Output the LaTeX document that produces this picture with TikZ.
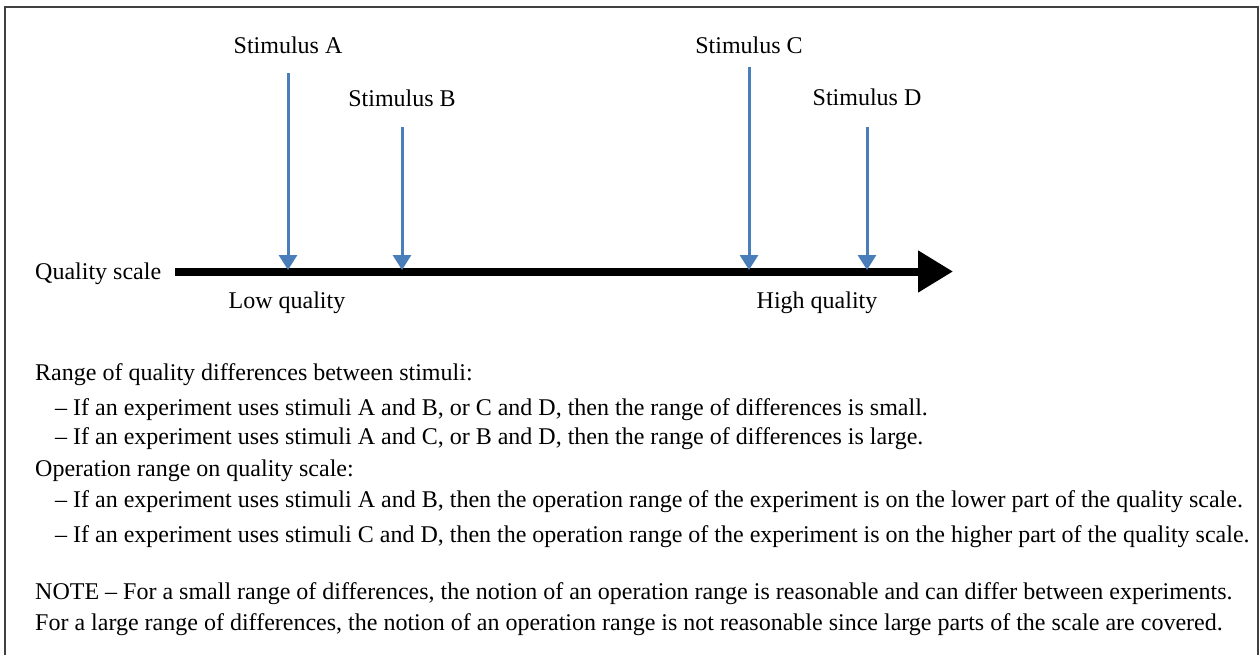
\documentclass[tikz,border=0pt]{standalone}
\usepackage{fontspec}
\setmainfont{Liberation Serif}
\usetikzlibrary{arrows.meta}
\definecolor{stimblue}{RGB}{74,126,187}
\tikzset{
  txt/.style={font=\fontsize{24}{28}\selectfont, inner sep=0pt},
  line/.style={txt, anchor=base west},
  stimarrow/.style={stimblue, line width=3pt, -{Triangle[length=15pt,width=18pt]}},
  axis/.style={black, line width=8pt, -{Triangle[length=35pt,width=40pt]}},
  frame/.style={draw=black!75, line width=1.2pt}
}
\begin{document}
\begin{tikzpicture}[x=1pt,y=-1pt]
\useasboundingbox (0,0) rectangle (1260,655);
% frame (open at the bottom)
\draw[frame] (5,660) -- (5,7) -- (1258,7) -- (1258,660);

% quality axis
\coordinate (axs) at (175,271.5);
\coordinate (axe) at (953,271.5);
\draw[axis] (axs) -- (axe);
\node[txt, anchor=base west] (qs) at (35,279) {Quality scale};
\node[txt, anchor=base] (lowq) at (287,308) {Low quality};
\node[txt, anchor=base] (highq) at (817,308) {High quality};

% stimuli
\node[txt, anchor=base] (sa) at (288,54) {Stimulus A};
\node[txt, anchor=base] (sb) at (402,107) {Stimulus B};
\node[txt, anchor=base] (sc) at (749,54) {Stimulus C};
\node[txt, anchor=base] (sd) at (867,106) {Stimulus D};
\coordinate (ta) at (288,73);  \coordinate (pa) at (288,270);
\coordinate (tb) at (402,127); \coordinate (pb) at (402,270);
\coordinate (tc) at (749,67);  \coordinate (pc) at (749,270);
\coordinate (td) at (867,127); \coordinate (pd) at (867,270);
\draw[stimarrow] (ta) -- (pa);
\draw[stimarrow] (tb) -- (pb);
\draw[stimarrow] (tc) -- (pc);
\draw[stimarrow] (td) -- (pd);

% explanatory text
\node[line] (l1) at (35,380) {Range of quality differences between stimuli:};
\node[line] (l2) at (55,415) {– If an experiment uses stimuli A and B, or C and D, then the range of differences is small.};
\node[line] (l3) at (55,444) {– If an experiment uses stimuli A and C, or B and D, then the range of differences is large.};
\node[line] (l4) at (35,476) {Operation range on quality scale:};
\node[line] (l5) at (55,507) {– If an experiment uses stimuli A and B, then the operation range of the experiment is on the lower part of the quality scale.};
\node[line] (l6) at (55,542) {– If an experiment uses stimuli C and D, then the operation range of the experiment is on the higher part of the quality scale.};
\node[line] (n1) at (35,599) {NOTE – For a small range of differences, the notion of an operation range is reasonable and can differ between experiments.};
\node[line] (n2) at (35,630) {For a large range of differences, the notion of an operation range is not reasonable since large parts of the scale are covered.};
\end{tikzpicture}
\end{document}
